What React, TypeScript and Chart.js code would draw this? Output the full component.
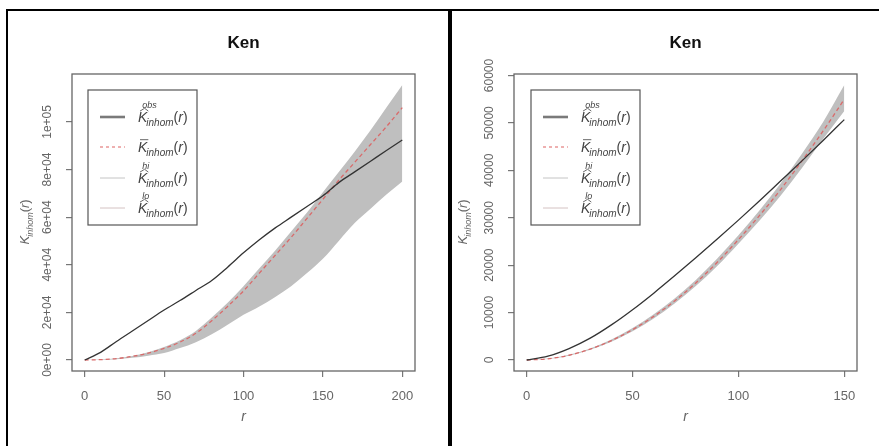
import React, { useEffect, useRef } from "react";
import { Chart, registerables } from "chart.js";

Chart.register(...registerables);

const chartTitle = "Ken";
const xAxisTitle = "r";

// ---- left panel data ----
const leftR = [0, 10, 20, 30, 40, 50, 60, 70, 80, 90, 100, 110, 120, 130, 140, 150, 160, 170, 180, 190, 200];
const leftObs = [0, 3200, 7800, 12200, 16600, 21000, 25000, 29200, 33400, 39000, 45000, 50500, 55500, 60000, 64500, 69000, 74500, 79000, 83500, 88000, 92400];
const leftMean = [0, 150, 600, 1500, 2900, 4900, 7500, 11200, 16500, 22500, 29000, 36500, 44000, 51500, 59500, 67500, 75500, 83000, 90500, 98000, 106000];
const leftHi = [0, 200, 700, 1700, 3300, 5500, 8300, 12200, 17800, 24000, 31000, 38500, 46000, 54000, 62000, 70500, 79000, 87500, 96500, 106000, 115500];
const leftLo = [0, 50, 300, 900, 1800, 2900, 5000, 7500, 10800, 14800, 19000, 22500, 26500, 31000, 36500, 42500, 50000, 57500, 63500, 69500, 75000];
const leftXTicks = [0, 50, 100, 150, 200];
const leftXTickLabels = ["0", "50", "100", "150", "200"];
const leftYTicks = [0, 20000, 40000, 60000, 80000, 100000];
const leftYTickLabels = ["0e+00", "2e+04", "4e+04", "6e+04", "8e+04", "1e+05"];

// ---- right panel data ----
const rightR = [0, 10, 20, 30, 40, 50, 60, 70, 80, 90, 100, 110, 120, 130, 140, 150];
const rightObs = [0, 800, 2400, 4600, 7400, 10600, 14100, 17800, 21600, 25500, 29500, 33600, 37800, 42000, 46300, 50700];
const rightMean = [0, 250, 1000, 2300, 4100, 6400, 9200, 12500, 16300, 20600, 25400, 30500, 36000, 42000, 48300, 55000];
const rightHi = [0, 300, 1100, 2450, 4350, 6750, 9650, 13050, 16950, 21400, 26300, 31600, 37300, 43500, 50200, 58000];
const rightLo = [0, 200, 900, 2150, 3850, 6050, 8750, 11950, 15650, 19800, 24500, 29400, 34700, 40500, 46600, 52500];
const rightXTicks = [0, 50, 100, 150];
const rightXTickLabels = ["0", "50", "100", "150"];
const rightYTicks = [0, 10000, 20000, 30000, 40000, 50000, 60000];
const rightYTickLabels = ["0", "10000", "20000", "30000", "40000", "50000", "60000"];

const legendSup = ["obs", "", "hi", "lo"];
const legendAccent = ["hat", "bar", "hat", "hat"];

const SANS = '"Liberation Sans Narrow", "Arial Narrow", "Liberation Sans", Arial, sans-serif';
const SANS_W = '"Liberation Sans", Arial, sans-serif';

type PanelCfg = {
  r: number[]; obs: number[]; mean: number[]; hi: number[]; lo: number[];
  xTicks: number[]; xTickLabels: string[]; yTicks: number[]; yTickLabels: string[];
  width: number; height: number; areaLeft: number; areaTop: number; padRight: number; areaBottom: number;
  yTitleOffset: number; legendDx: number;
};

function drawKLabel(ctx: CanvasRenderingContext2D, x: number, y: number, accent: string, sup: string, size: number) {
  ctx.save();
  ctx.textBaseline = "alphabetic";
  ctx.textAlign = "left";
  ctx.font = `italic ${size}px ${SANS}`;
  ctx.fillText("K", x, y);
  const kw = ctx.measureText("K").width;
  ctx.lineWidth = 0.8;
  if (accent === "hat") {
    ctx.beginPath();
    ctx.moveTo(x + 2, y - size * 0.78);
    ctx.lineTo(x + kw * 0.6 + 1, y - size * 0.98);
    ctx.lineTo(x + kw + 1, y - size * 0.78);
    ctx.stroke();
  } else if (accent === "bar") {
    ctx.beginPath();
    ctx.moveTo(x + 2, y - size * 0.88);
    ctx.lineTo(x + kw + 1, y - size * 0.88);
    ctx.stroke();
  }
  if (sup) {
    ctx.font = `italic ${Math.round(size * 0.65)}px ${SANS}`;
    ctx.fillText(sup, x + kw * 0.45, y - size * 1.02);
  }
  ctx.font = `italic ${Math.round(size * 0.72)}px ${SANS}`;
  ctx.fillText("inhom", x + kw - 1, y + size * 0.3);
  const sw = ctx.measureText("inhom").width;
  let cx = x + kw - 1 + sw;
  ctx.font = `${size}px ${SANS}`;
  ctx.fillText("(", cx, y);
  cx += ctx.measureText("(").width;
  ctx.font = `italic ${size}px ${SANS}`;
  ctx.fillText("r", cx, y);
  cx += ctx.measureText("r").width;
  ctx.font = `${size}px ${SANS}`;
  ctx.fillText(")", cx, y);
  ctx.restore();
}

function makeDecor(cfg: PanelCfg) {
  return {
    id: "rdecor",
    afterDraw(chart: any) {
      const ctx: CanvasRenderingContext2D = chart.ctx;
      const a = chart.chartArea;
      const ys = chart.scales.y;
      ctx.save();
      // box
      ctx.strokeStyle = "#666";
      ctx.lineWidth = 1.3;
      ctx.strokeRect(a.left, a.top, a.right - a.left, a.bottom - a.top);
      // title
      ctx.fillStyle = "#111";
      ctx.font = `bold 17px ${SANS_W}`;
      ctx.textAlign = "center";
      ctx.textBaseline = "middle";
      const cxm = (a.left + a.right) / 2;
      ctx.fillText(chartTitle, cxm, a.top - 31);
      // x title
      ctx.fillStyle = "#666";
      ctx.font = `italic 14px ${SANS}`;
      ctx.fillText(xAxisTitle, cxm, a.bottom + 46);
      // y tick labels (rotated, R style)
      ctx.font = `12px ${SANS}`;
      ctx.fillStyle = "#666";
      cfg.yTicks.forEach((v, i) => {
        const py = ys.getPixelForValue(v);
        ctx.save();
        ctx.translate(a.left - 24, py);
        ctx.rotate(-Math.PI / 2);
        ctx.textAlign = "center";
        ctx.textBaseline = "middle";
        ctx.fillText(cfg.yTickLabels[i], 0, 0);
        ctx.restore();
      });
      // y title
      ctx.save();
      ctx.translate(a.left - cfg.yTitleOffset, (a.top + a.bottom) / 2 + 22);
      ctx.rotate(-Math.PI / 2);
      ctx.fillStyle = "#666";
      ctx.strokeStyle = "#666";
      drawKLabel(ctx, 0, 4, "", "", 13);
      ctx.restore();
      // legend
      const lx = a.left + cfg.legendDx;
      const ly = a.top + 16;
      ctx.strokeStyle = "#555";
      ctx.lineWidth = 1.2;
      ctx.strokeRect(lx, ly, 109, 135);
      const rowY = [27, 57, 88, 118];
      const styles = [
        { c: "#7a7a7a", w: 2.6, d: [] as number[] },
        { c: "#e07070", w: 1.1, d: [3, 3] },
        { c: "#c4c4c4", w: 1, d: [] as number[] },
        { c: "#d4c2c2", w: 1, d: [] as number[] },
      ];
      rowY.forEach((dy, i) => {
        const yy = ly + dy;
        ctx.save();
        ctx.strokeStyle = styles[i].c;
        ctx.lineWidth = styles[i].w;
        ctx.setLineDash(styles[i].d);
        ctx.beginPath();
        ctx.moveTo(lx + 12, yy);
        ctx.lineTo(lx + 37, yy);
        ctx.stroke();
        ctx.restore();
        ctx.fillStyle = "#444";
        ctx.strokeStyle = "#444";
        drawKLabel(ctx, lx + 50, yy + 5, legendAccent[i], legendSup[i], 14);
      });
      ctx.restore();
    },
  };
}

function extent(vals: number[][]) {
  let mn = Infinity, mx = -Infinity;
  vals.forEach((arr) => arr.forEach((v) => { if (v < mn) mn = v; if (v > mx) mx = v; }));
  const d = (mx - mn) * 0.04;
  return [mn - d, mx + d];
}

function Panel({ cfg, style }: { cfg: PanelCfg; style: React.CSSProperties }) {
  const ref = useRef<HTMLCanvasElement>(null);
  useEffect(() => {
    const canvas = ref.current!;
    const pts = (ys: number[]) => cfg.r.map((x, i) => ({ x, y: ys[i] }));
    const [xmin, xmax] = extent([cfg.r]);
    const [ymin, ymax] = extent([cfg.obs, cfg.mean, cfg.hi, cfg.lo]);
    const common = { pointRadius: 0, cubicInterpolationMode: "monotone" as const };
    const chart = new Chart(canvas, {
      type: "line",
      data: {
        datasets: [
          { ...common, label: "obs", data: pts(cfg.obs), borderColor: "#333", borderWidth: 1.3, fill: false },
          { ...common, label: "mean", data: pts(cfg.mean), borderColor: "#d96a6a", borderWidth: 1.3, borderDash: [4, 3], fill: false },
          { ...common, label: "hi", data: pts(cfg.hi), borderColor: "rgba(0,0,0,0)", borderWidth: 0, fill: "+1", backgroundColor: "#bfbfbf" },
          { ...common, label: "lo", data: pts(cfg.lo), borderColor: "rgba(0,0,0,0)", borderWidth: 0, fill: false },
        ],
      },
      options: {
        responsive: false,
        animation: false,
        devicePixelRatio: 1,
        events: [],
        layout: { padding: { left: 0, right: cfg.padRight, top: cfg.areaTop, bottom: 0 } },
        plugins: {
          legend: { display: false },
          title: { display: false },
          tooltip: { enabled: false },
          filler: { drawTime: "beforeDatasetsDraw" },
        } as any,
        scales: {
          x: {
            type: "linear",
            min: xmin,
            max: xmax,
            afterBuildTicks: (s: any) => { s.ticks = cfg.xTicks.map((v) => ({ value: v })); },
            afterFit: (s: any) => { s.height = cfg.height - cfg.areaBottom; },
            grid: { drawOnChartArea: false, drawTicks: true, tickLength: 6, color: "#777", lineWidth: 1.2 },
            border: { display: false },
            ticks: {
              autoSkip: false,
              maxRotation: 0,
              padding: 12,
              color: "#666",
              font: { family: SANS, size: 13 },
              callback: (_v: any, i: number) => cfg.xTickLabels[i],
            },
          },
          y: {
            type: "linear",
            min: ymin,
            max: ymax,
            afterBuildTicks: (s: any) => { s.ticks = cfg.yTicks.map((v) => ({ value: v })); },
            afterFit: (s: any) => { s.width = cfg.areaLeft; },
            grid: { drawOnChartArea: false, drawTicks: true, tickLength: 6, color: "#777", lineWidth: 1.2 },
            border: { display: false },
            ticks: { display: false },
          },
        },
      },
      plugins: [makeDecor(cfg)],
    } as any);
    return () => chart.destroy();
  }, [cfg]);
  return <canvas ref={ref} width={cfg.width} height={cfg.height} style={{ ...style, width: cfg.width, height: cfg.height }} />;
}

const leftCfg: PanelCfg = {
  r: leftR, obs: leftObs, mean: leftMean, hi: leftHi, lo: leftLo,
  xTicks: leftXTicks, xTickLabels: leftXTickLabels, yTicks: leftYTicks, yTickLabels: leftYTickLabels,
  width: 440, height: 435, areaLeft: 64, areaTop: 63, padRight: 33, areaBottom: 360,
  yTitleOffset: 47, legendDx: 16,
};
const rightCfg: PanelCfg = {
  r: rightR, obs: rightObs, mean: rightMean, hi: rightHi, lo: rightLo,
  xTicks: rightXTicks, xTickLabels: rightXTickLabels, yTicks: rightYTicks, yTickLabels: rightYTickLabels,
  width: 426, height: 435, areaLeft: 61, areaTop: 63, padRight: 22, areaBottom: 360,
  yTitleOffset: 51, legendDx: 17,
};

export default function App() {
  return (
    <div style={{ position: "fixed", left: 0, top: 0, width: 879, height: 446, background: "#fff", overflow: "hidden" }}>
      <Panel cfg={leftCfg} style={{ position: "absolute", left: 8, top: 11 }} />
      <Panel cfg={rightCfg} style={{ position: "absolute", left: 453, top: 11 }} />
      <div style={{ position: "absolute", left: 6, top: 9, width: 873, height: 2, background: "#000" }} />
      <div style={{ position: "absolute", left: 6, top: 9, width: 2, height: 437, background: "#000" }} />
      <div style={{ position: "absolute", left: 448, top: 9, width: 4, height: 437, background: "#000" }} />
    </div>
  );
}
